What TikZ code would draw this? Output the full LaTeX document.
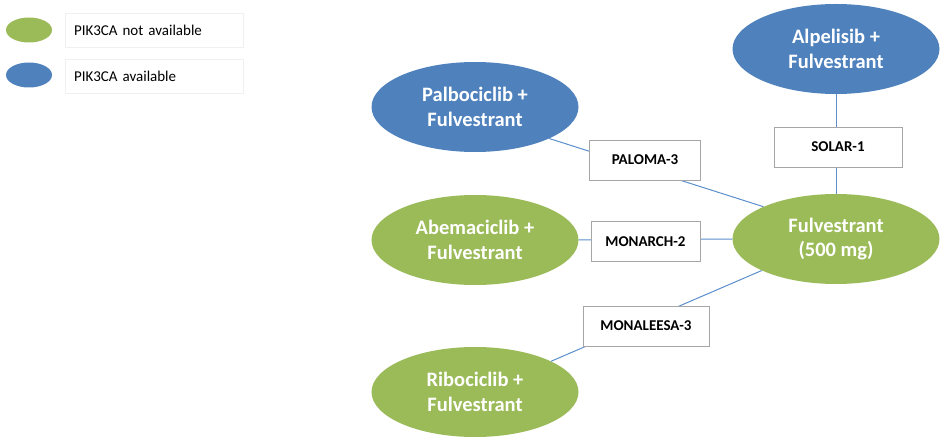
\documentclass[tikz,border=0pt]{standalone}
\usepackage{fontspec}
\setmainfont{Carlito}
\usetikzlibrary{shapes.geometric}
\definecolor{obl}{HTML}{4F81BD}
\definecolor{ogr}{HTML}{9BBB59}
\definecolor{lnc}{HTML}{5B8FCB}
\tikzset{
  drug/.style={ellipse, inner sep=0pt, minimum width=207pt, minimum height=90pt, text=white,
    font=\fontsize{20.5}{24.5}\selectfont\bfseries, align=center},
  bluedrug/.style={drug, fill=obl},
  greendrug/.style={drug, fill=ogr},
  trial/.style={rectangle, draw=black!35, line width=0.8pt, fill=white, inner sep=0pt,
    minimum height=40pt, font=\fontsize{15}{17}\selectfont\bfseries},
  link/.style={draw=lnc, line width=1pt},
  legbox/.style={rectangle, draw=black!6, line width=0.8pt, inner sep=0pt, minimum width=178pt,
    minimum height=34pt, text width=160pt, align=left, font=\fontsize{15}{17}\selectfont},
  legell/.style={ellipse, inner sep=0pt, minimum width=46pt, minimum height=25pt}
}
\begin{document}
\begin{tikzpicture}[x=1pt,y=-1pt]
\useasboundingbox (0,0) rectangle (943,438);
% legend
\node[legell, fill=ogr] (lg) at (29,30) {};
\node[legell, fill=obl] (lb) at (29,75) {};
\node[legbox] (lgt) at (154,30) {PIK3CA not available};
\node[legbox] (lbt) at (154,76.5) {PIK3CA available};
% drugs
\node[bluedrug] (palbo) at (475,107) {Palbociclib +\\Fulvestrant};
\node[bluedrug] (alpe) at (836,49) {Alpelisib +\\Fulvestrant};
\node[greendrug] (abem) at (475,240) {Abemaciclib +\\Fulvestrant};
\node[greendrug] (fulv) at (836,239) {Fulvestrant\\(500 mg)};
\node[greendrug] (ribo) at (475,392) {Ribociclib +\\Fulvestrant};
% connectors
\draw[link] (palbo.-23) -- (fulv.156);
\draw[link] (abem.east) -- (fulv.west);
\draw[link] (alpe.south) -- (fulv.north);
\draw[link] (ribo.22.6) -- (fulv.203);
% trials
\node[trial, minimum width=111pt] (paloma) at (645,160) {PALOMA-3};
\node[trial, minimum width=128pt] (solar) at (838,147) {SOLAR-1};
\node[trial, minimum width=109pt] (monarch) at (645.5,241.5) {MONARCH-2};
\node[trial, minimum width=126pt] (monaleesa) at (646,326) {MONALEESA-3};
\end{tikzpicture}
\end{document}
